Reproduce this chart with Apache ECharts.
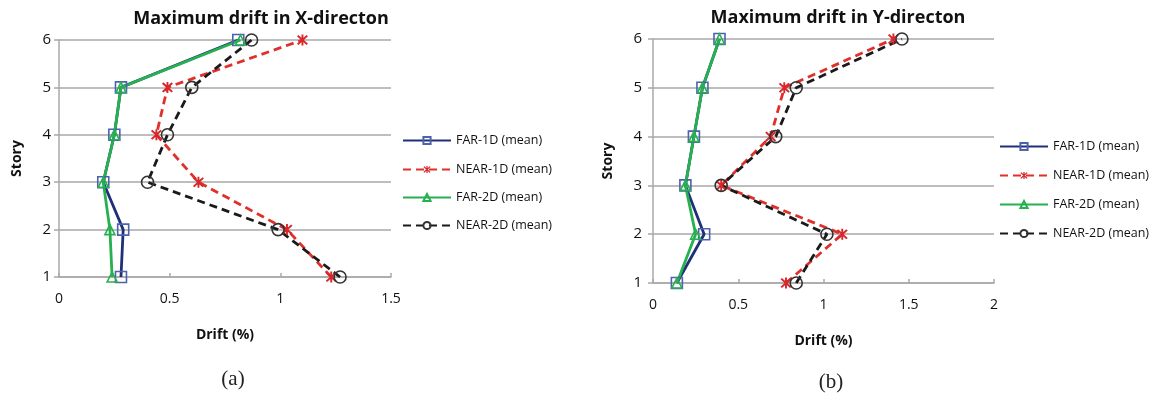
<!DOCTYPE html>
<html>
<head>
<meta charset="utf-8">
<script src="https://cdn.jsdelivr.net/npm/echarts@6/dist/echarts.min.js"></script>
<style>
  html, body { margin: 0; padding: 0; background: #fff; }
  #chart { width: 1162px; height: 394px; }
</style>
</head>
<body>
<div id="chart"></div>
<script>
// Story levels (y axis)
const stories = [1, 2, 3, 4, 5, 6];

// Series names
const seriesNames = ['FAR-1D (mean)', 'NEAR-1D (mean)', 'FAR-2D (mean)', 'NEAR-2D (mean)'];

// Maximum drift (%) in X-direction, story 1..6
const xFar1D  = [0.28, 0.29, 0.20, 0.25, 0.28, 0.81];
const xNear1D = [1.23, 1.03, 0.63, 0.44, 0.49, 1.10];
const xFar2D  = [0.24, 0.23, 0.20, 0.25, 0.28, 0.82];
const xNear2D = [1.27, 0.99, 0.40, 0.49, 0.60, 0.87];

// Maximum drift (%) in Y-direction, story 1..6
const yFar1D  = [0.14, 0.30, 0.19, 0.24, 0.29, 0.39];
const yNear1D = [0.78, 1.11, 0.40, 0.69, 0.77, 1.41];
const yFar2D  = [0.14, 0.25, 0.19, 0.24, 0.29, 0.39];
const yNear2D = [0.84, 1.02, 0.40, 0.72, 0.84, 1.46];

// Axis tick settings
const xMaxA = 1.5, xMaxB = 2, xInterval = 0.5;

const FONT = "'Open Sans', 'Noto Sans', sans-serif";
const GRID_GREY = '#a9a9a9';
const TEXT = '#111';

const STAR = 'path://M4.2 0L5.8 0L5.8 10L4.2 10Z M0.4 1.6L1.6 0.4L9.6 8.4L8.4 9.6Z M8.4 0.4L9.6 1.6L1.6 9.6L0.4 8.4Z';

const styles = [
  { line: '#1f2f78', type: 'solid',  symbol: 'rect',     size: 11, item: { color: 'transparent', borderColor: '#4d62ad', borderWidth: 1.6 } },
  { line: '#e0302c', type: 'dashed', symbol: STAR,       size: 11, item: { color: '#d8262a', borderWidth: 0 } },
  { line: '#27b04f', type: 'solid',  symbol: 'triangle', size: 10, item: { color: 'transparent', borderColor: '#27b04f', borderWidth: 1.6 } },
  { line: '#1a1a1a', type: 'dashed', symbol: 'circle',   size: 12, item: { color: 'transparent', borderColor: '#333', borderWidth: 1.6 } }
];

function makeSeries(values, idx, axisIdx) {
  const s = styles[idx];
  return {
    type: 'line',
    name: seriesNames[idx],
    xAxisIndex: axisIdx,
    yAxisIndex: axisIdx,
    data: values.map((v, i) => [v, stories[i]]),
    symbol: s.symbol,
    symbolSize: s.size,
    showAllSymbol: true,
    lineStyle: { color: s.line, width: 2.8, type: s.type === 'dashed' ? [8, 5] : 'solid' },
    itemStyle: s.item,
    emphasis: { disabled: true },
    animation: false
  };
}

function xAxisDef(gridIndex, max) {
  return {
    type: 'value', gridIndex, min: 0, max, interval: xInterval,
    name: 'Drift (%)', nameLocation: 'middle', nameGap: 51,
    nameTextStyle: { fontFamily: FONT, fontWeight: 'bold', fontSize: 14, color: TEXT },
    axisLine: { show: true, lineStyle: { color: GRID_GREY, width: 1.5 } },
    axisTick: { show: true, inside: true, length: 4, lineStyle: { color: GRID_GREY, width: 1.5 } },
    axisLabel: { fontFamily: FONT, fontSize: 14, color: TEXT, margin: 15 },
    splitLine: { show: false }
  };
}

function yAxisDef(gridIndex, gap, labelMargin) {
  return {
    type: 'value', gridIndex, min: 1, max: 6, interval: 1,
    name: 'Story', nameLocation: 'middle', nameGap: gap,
    nameTextStyle: { fontFamily: FONT, fontWeight: 'bold', fontSize: 14, color: TEXT },
    axisLine: { show: true, lineStyle: { color: GRID_GREY, width: 1.5 } },
    axisTick: { show: true, length: 5, lineStyle: { color: GRID_GREY, width: 1.5 } },
    axisLabel: { fontFamily: FONT, fontSize: 15, color: TEXT, margin: labelMargin },
    splitLine: { show: true, lineStyle: { color: GRID_GREY, width: 1.5 } }
  };
}

function legendItem(name, left, centerY) {
  return {
    data: [name], left, top: centerY - 8, orient: 'vertical', padding: 0,
    itemWidth: 48, itemHeight: 9, selectedMode: false,
    textStyle: { fontFamily: FONT, fontSize: 12.5, color: TEXT }
  };
}

const legA = [142, 171, 199, 227];
const legB = [148, 177, 206, 235];

const option = {
  backgroundColor: '#fff',
  animation: false,
  title: [
    { text: 'Maximum drift in X-directon', left: 256, top: 5, textAlign: 'center',
      textStyle: { fontFamily: FONT, fontWeight: 'bold', fontSize: 18, color: TEXT } },
    { text: 'Maximum drift in Y-directon', left: 833, top: 4, textAlign: 'center',
      textStyle: { fontFamily: FONT, fontWeight: 'bold', fontSize: 18, color: TEXT } },
    { text: '(a)', left: 228, top: 364, textAlign: 'center',
      textStyle: { fontFamily: "'Liberation Serif', serif", fontWeight: 'normal', fontSize: 21, color: '#222' } },
    { text: '(b)', left: 826, top: 367, textAlign: 'center',
      textStyle: { fontFamily: "'Liberation Serif', serif", fontWeight: 'normal', fontSize: 21, color: '#222' } }
  ],
  legend: [
    ...seriesNames.map((n, i) => legendItem(n, 402, legA[i])),
    ...seriesNames.map((n, i) => legendItem(n, 999, legB[i]))
  ],
  grid: [
    { left: 59, top: 40, width: 332, height: 237 },
    { left: 653, top: 39, width: 341, height: 244 }
  ],
  xAxis: [xAxisDef(0, xMaxA), xAxisDef(1, xMaxB)],
  yAxis: [yAxisDef(0, 35, 8), yAxisDef(1, 38, 11)],
  series: [
    makeSeries(xFar1D, 0, 0),
    makeSeries(xNear1D, 1, 0),
    makeSeries(xFar2D, 2, 0),
    makeSeries(xNear2D, 3, 0),
    makeSeries(yFar1D, 0, 1),
    makeSeries(yNear1D, 1, 1),
    makeSeries(yFar2D, 2, 1),
    makeSeries(yNear2D, 3, 1)
  ]
};

const chart = echarts.init(document.getElementById('chart'), null, { renderer: 'canvas' });
chart.setOption(option);
</script>
</body>
</html>
